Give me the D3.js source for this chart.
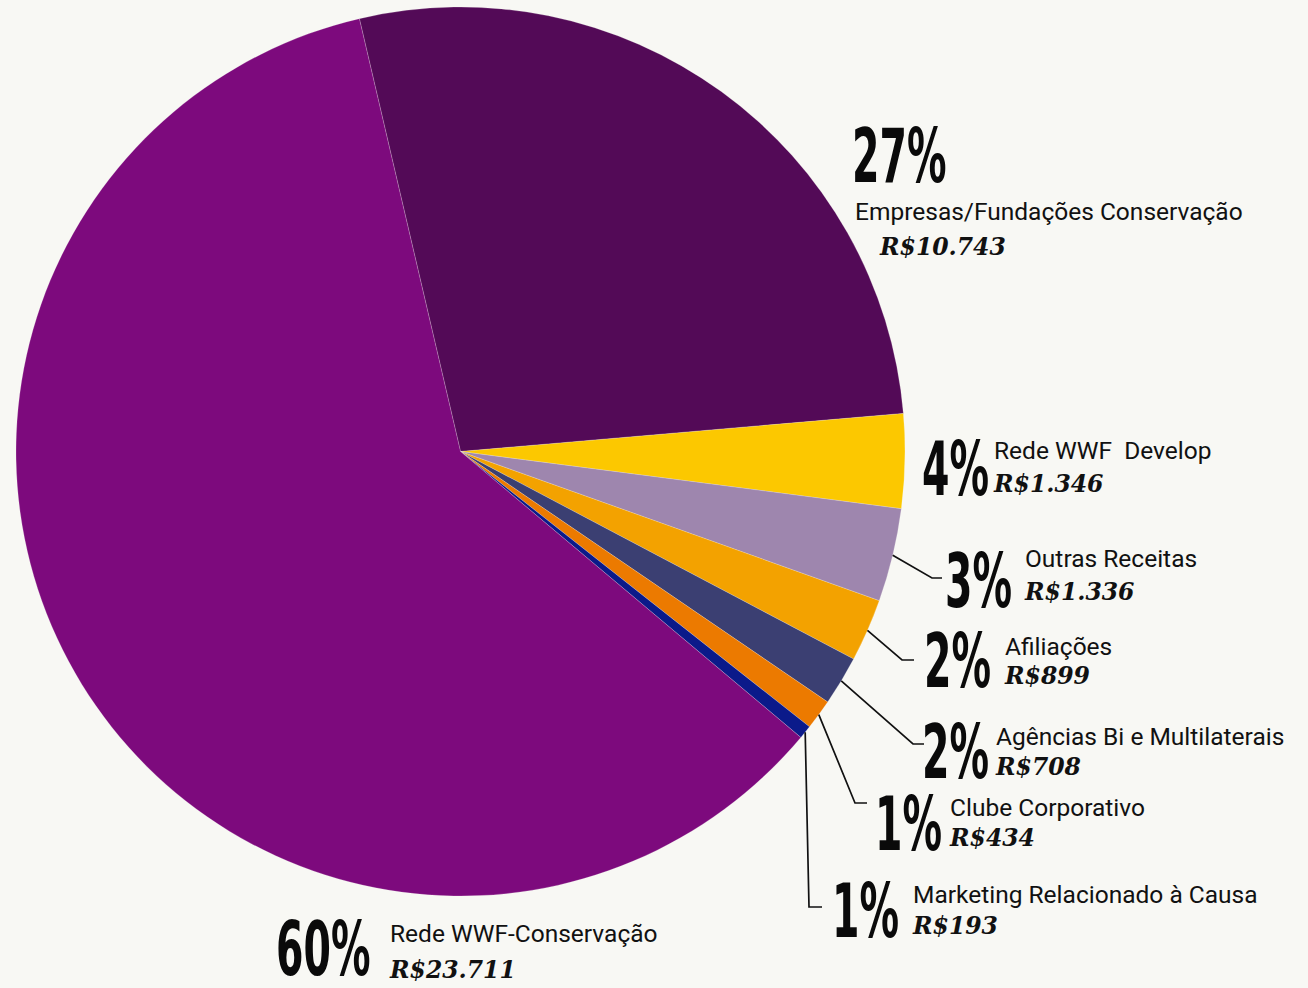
<!DOCTYPE html>
<html>
<head>
<meta charset="utf-8">
<script src="https://cdn.jsdelivr.net/npm/d3@7"></script>
<style>
  html, body { margin: 0; padding: 0; background: #F8F8F4; }
  svg { display: block; }
</style>
</head>
<body>
<svg id="chart" width="1308" height="988"></svg>
<script>
// ---- data ----
const categories = [
  "Empresas/Fundações Conservação",
  "Rede WWF  Develop",
  "Outras Receitas",
  "Afiliações",
  "Agências Bi e Multilaterais",
  "Clube Corporativo",
  "Marketing Relacionado à Causa",
  "Rede WWF-Conservação"
];
const values = [10743, 1346, 1336, 899, 708, 434, 193, 23711];
const percentLabels = ["27%", "4%", "3%", "2%", "2%", "1%", "1%", "60%"];
const valueLabels = ["R$10.743", "R$1.346", "R$1.336", "R$899", "R$708", "R$434", "R$193", "R$23.711"];
const colors = ["#530A57", "#FCC800", "#9E86AE", "#F3A200", "#3B3F72", "#EC7A00", "#0B1A8A", "#7D0A7D"];

// ---- layout (label placement) ----
const layout = [
  { px: 852, py: 182, nx: 855, ny: 220, vx: 880, vy: 255, elbow: null },
  { px: 922, py: 495, nx: 994, ny: 459, vx: 994, vy: 492, elbow: null },
  { px: 945, py: 607, nx: 1025, ny: 567, vx: 1025, vy: 600, elbow: [932, 578, 942] },
  { px: 924, py: 687, nx: 1005, ny: 655, vx: 1005, vy: 684, elbow: [902, 660, 914] },
  { px: 922, py: 778, nx: 996, ny: 745, vx: 996, vy: 775, elbow: [913, 744, 924] },
  { px: 875, py: 850, nx: 950, ny: 816, vx: 950, vy: 846, elbow: [855, 803, 867] },
  { px: 832, py: 937, nx: 913, ny: 903, vx: 913, vy: 934, elbow: [809, 907, 822] },
  { px: 276, py: 975, nx: 390, ny: 942, vx: 390, vy: 978, elbow: null }
];

const cx = 460.5, cy = 451.5, R = 444.5;
const start = -13.15 * Math.PI / 180;

const svg = d3.select("#chart");
svg.append("rect").attr("width", 1308).attr("height", 988).attr("fill", "#F8F8F4");

const pie = d3.pie().sort(null).value(d => d).startAngle(start).endAngle(start + 2 * Math.PI);
const arcs = pie(values);
const arc = d3.arc().innerRadius(0).outerRadius(R);

const g = svg.append("g").attr("transform", `translate(${cx},${cy})`);
g.selectAll("path").data(arcs).join("path")
  .attr("d", arc)
  .attr("fill", (d, i) => colors[i])
  .attr("stroke", "#F8F8F4")
  .attr("stroke-width", 0.4)
  .attr("stroke-opacity", 0.5);

// leader lines
arcs.forEach((a, i) => {
  const L = layout[i];
  if (!L.elbow) return;
  const mid = (a.startAngle + a.endAngle) / 2;
  const x0 = cx + R * Math.sin(mid), y0 = cy - R * Math.cos(mid);
  const [ex, ey, hx] = L.elbow;
  svg.append("path")
    .attr("d", `M${x0},${y0}L${ex},${ey}L${hx},${ey}`)
    .attr("fill", "none")
    .attr("stroke", "#111")
    .attr("stroke-width", 1.7);
});

const pctSX = 0.585;
const labels = svg.append("g");
categories.forEach((c, i) => {
  const L = layout[i];
  labels.append("text")
    .attr("transform", `translate(${L.px},${L.py}) scale(${pctSX},1)`)
    .attr("font-family", "'DejaVu Sans Condensed', 'DejaVu Sans', sans-serif")
    .attr("font-weight", "bold")
    .attr("font-size", 75)
    .attr("fill", "#0A0A0A")
    .text(percentLabels[i]);
  labels.append("text")
    .attr("x", L.nx).attr("y", L.ny)
    .attr("font-family", "Roboto, 'Liberation Sans', sans-serif")
    .attr("font-weight", 400)
    .attr("font-size", 24.5)
    .attr("fill", "#111")
    .style("white-space", "pre")
    .text(c);
  labels.append("text")
    .attr("x", L.vx).attr("y", L.vy)
    .attr("font-family", "'DejaVu Serif', 'Liberation Serif', serif")
    .attr("font-weight", "bold")
    .attr("font-style", "italic")
    .attr("font-size", 23.5)
    .attr("fill", "#111")
    .text(valueLabels[i]);
});
</script>
</body>
</html>
